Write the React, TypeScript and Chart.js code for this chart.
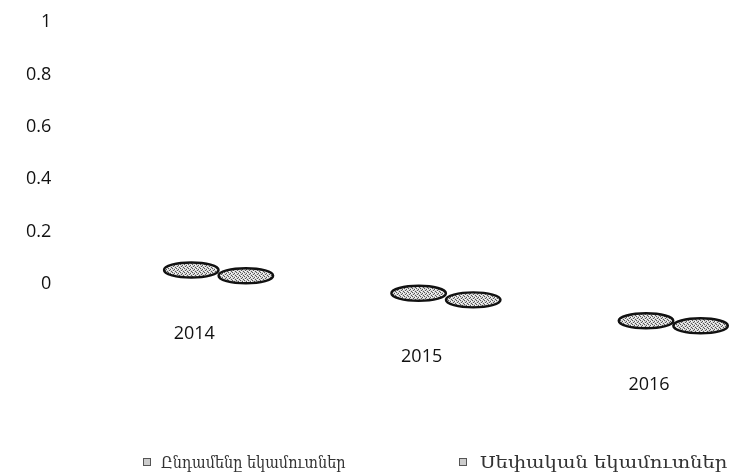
import React, { useEffect, useRef } from "react";
import { Chart, registerables } from "chart.js";

Chart.register(...registerables);

const years = [2014, 2015, 2016];
const seriesNames = ["Ընդամենը եկամուտներ", "Սեփական եկամուտներ"];
const totalIncome = [0.053, -0.036, -0.141];
const ownIncome = [0.031, -0.061, -0.16];
const yTickValues = [0, 0.2, 0.4, 0.6, 0.8, 1];

function makePattern(ctx: CanvasRenderingContext2D) {
  const c = document.createElement("canvas");
  c.width = 4;
  c.height = 4;
  const g = c.getContext("2d")!;
  g.fillStyle = "#d6d6d6";
  g.fillRect(0, 0, 4, 4);
  g.fillStyle = "#555";
  g.fillRect(0, 0, 1, 1);
  g.fillRect(2, 1, 1, 1);
  g.fillRect(1, 2, 1, 1);
  g.fillRect(3, 3, 1, 1);
  g.fillStyle = "#fff";
  g.fillRect(3, 1, 1, 1);
  g.fillRect(1, 3, 1, 1);
  return ctx.createPattern(c, "repeat");
}

const ellipsePlugin = {
  id: "ellipseTops",
  afterDatasetsDraw(chart: any) {
    const ctx: CanvasRenderingContext2D = chart.ctx;
    const pat = makePattern(ctx);
    chart.data.datasets.forEach((_ds: any, i: number) => {
      const meta = chart.getDatasetMeta(i);
      meta.data.forEach((el: any) => {
        const { x, y, width } = el.getProps(["x", "y", "width"], true);
        ctx.save();
        ctx.beginPath();
        ctx.ellipse(x, y, width / 2, 7.5, 0, 0, Math.PI * 2);
        ctx.fillStyle = pat || "#bbb";
        ctx.fill();
        ctx.lineWidth = 2.4;
        ctx.strokeStyle = "#111";
        ctx.stroke();
        ctx.restore();
      });
    });
    const m0 = chart.getDatasetMeta(0);
    ctx.save();
    ctx.font = '18px "Open Sans"';
    ctx.fillStyle = "#111";
    ctx.textAlign = "center";
    ctx.textBaseline = "middle";
    m0.data.forEach((el: any, i: number) => {
      ctx.fillText(String(years[i]), el.x + 3, el.y + 64);
    });
    ctx.restore();
  },
};

export default function App() {
  const ref = useRef<HTMLCanvasElement>(null);
  useEffect(() => {
    if (!ref.current) return;
    const chart = new Chart(ref.current, {
      type: "bar",
      data: {
        datasets: [
          {
            label: seriesNames[0],
            data: years.map((x, i) => ({ x, y: totalIncome[i] })),
            backgroundColor: "rgba(0,0,0,0)",
            borderWidth: 0,
          },
          {
            label: seriesNames[1],
            data: years.map((x, i) => ({ x, y: ownIncome[i] })),
            backgroundColor: "rgba(0,0,0,0)",
            borderWidth: 0,
          },
        ],
      },
      options: {
        animation: false,
        responsive: false,
        layout: { padding: { left: 22, top: 22, right: 0, bottom: 35 } },
        datasets: { bar: { categoryPercentage: 0.96, barPercentage: 1 } },
        plugins: { legend: { display: false }, tooltip: { enabled: false } },
        scales: {
          x: {
            type: "linear",
            display: false,
            offset: false,
            min: 2013.282,
            max: 2016.267,
          },
          y: {
            min: -0.6,
            max: 1,
            afterBuildTicks: (s: any) => {
              s.ticks = yTickValues.map((v) => ({ value: v }));
            },
            ticks: {
              font: { family: "Open Sans", size: 18 },
              color: "#111",
              padding: 4,
              callback: (v: any) => String(v),
            },
            grid: { display: false, drawTicks: false },
            border: { display: false },
          },
        },
      } as any,
      plugins: [ellipsePlugin],
    });
    return () => chart.destroy();
  }, []);

  const legendText: React.CSSProperties = {
    position: "absolute",
    top: 451,
    height: 22,
    lineHeight: "22px",
    fontFamily: '"DejaVu Serif", serif',
    fontSize: 17,
    color: "#333",
    whiteSpace: "nowrap",
    transformOrigin: "left center",
  };
  const marker: React.CSSProperties = {
    position: "absolute",
    top: 458,
    width: 6,
    height: 6,
    border: "1px solid #555",
    background: "#ccc",
  };

  return (
    <div style={{ position: "fixed", left: 0, top: 0, width: 734, height: 476, background: "#fff" }}>
      <canvas ref={ref} width={734} height={476} style={{ display: "block" }} />
      <div style={{ ...marker, left: 143 }} />
      <div style={{ ...legendText, left: 161, transform: "scaleX(0.85)" }}>{seriesNames[0]}</div>
      <div style={{ ...marker, left: 459 }} />
      <div style={{ ...legendText, left: 480, transform: "scaleX(1.15)" }}>{seriesNames[1]}</div>
    </div>
  );
}
